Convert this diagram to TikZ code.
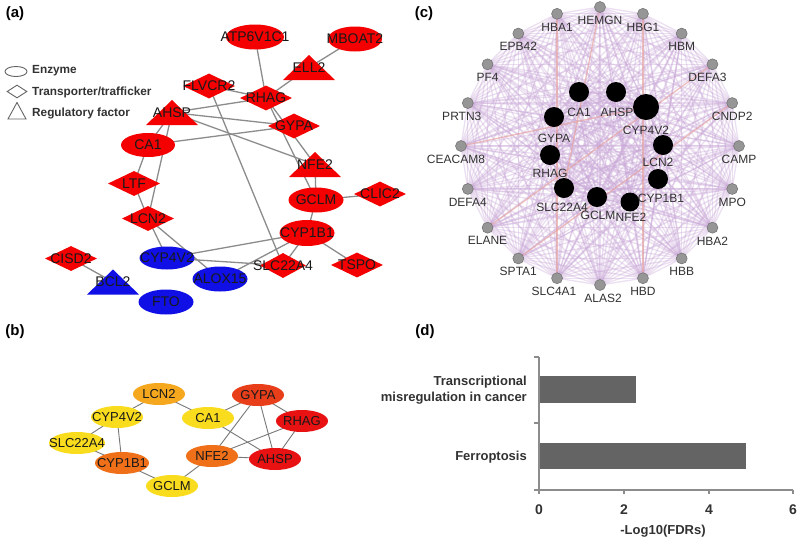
\documentclass[tikz,border=0pt]{standalone}
\usepackage{fontspec}
\setmainfont{Liberation Sans}
\usetikzlibrary{shapes.geometric}
\pgfdeclarelayer{back}
\pgfdeclarelayer{bg}
\pgfsetlayers{back,bg,main}
\definecolor{netred}{RGB}{245,0,0}
\definecolor{netblue}{RGB}{15,15,230}
\definecolor{edgegray}{RGB}{140,140,140}
\definecolor{edgegrayb}{RGB}{120,120,120}
\definecolor{byellow}{RGB}{250,220,30}
\definecolor{bamber}{RGB}{245,168,30}
\definecolor{borange}{RGB}{240,112,25}
\definecolor{bredor}{RGB}{232,62,25}
\definecolor{bred}{RGB}{232,18,18}
\definecolor{meshc}{RGB}{200,165,215}
\definecolor{meshor}{RGB}{240,160,140}
\definecolor{gnodefill}{RGB}{150,150,150}
\definecolor{gnodeline}{RGB}{110,110,110}
\definecolor{barfill}{RGB}{100,100,100}
\definecolor{axisgray}{RGB}{140,140,140}
\definecolor{txt}{RGB}{25,25,25}
\definecolor{txtc}{RGB}{50,50,50}
\definecolor{legline}{RGB}{100,100,100}
\tikzset{
  fA/.style={font=\fontsize{14}{16}\selectfont, text=txt, inner sep=0},
  fB/.style={font=\fontsize{13}{15}\selectfont, text=txt, inner sep=0},
  fC/.style={font=\fontsize{12}{14}\selectfont, text=txtc, inner sep=0},
  fLeg/.style={font=\fontsize{11.8}{14}\selectfont\bfseries, text=txtc, inner sep=0, anchor=west},
  fD/.style={font=\fontsize{13}{16}\selectfont\bfseries, text=txtc, inner sep=0},
  fTick/.style={font=\fontsize{14}{16}\selectfont\bfseries, text=txtc, inner sep=0},
  panel/.style={font=\fontsize{15}{17}\selectfont\bfseries, text=black, inner sep=0},
  ellA/.style={ellipse, fill=#1, minimum width=55pt, minimum height=25pt, inner sep=0},
  diaA/.style={diamond, fill=#1, minimum width=52pt, minimum height=25pt, inner sep=0},
  ellB/.style={ellipse, fill=#1, minimum width=52pt, minimum height=22pt, inner sep=0},
  edgeA/.style={draw=edgegray, line width=1.3pt},
  edgeB/.style={draw=edgegrayb, line width=0.9pt},
  meshline/.style={draw=meshc, line width=1.3pt, opacity=0.35},
  meshorl/.style={draw=meshor, line width=1.3pt, opacity=0.5},
  gnode/.style={circle, fill=gnodefill, draw=gnodeline, line width=0.5pt, minimum size=11pt, inner sep=0},
  knode/.style={circle, fill=black, minimum size=20pt, inner sep=0},
  axisline/.style={draw=axisgray, line width=1.3pt},
}
\newcommand{\trinode}[5]{%
  \fill[#5] (#2-26,#3+12.5) -- (#2+26,#3+12.5) -- (#2,#3-12.5) -- cycle;
  \node[fA] (#1) at (#2,#3) {#4};}
\begin{document}
\begin{tikzpicture}[x=1pt,y=-1pt]
\useasboundingbox (0,0) rectangle (800,547);
\begin{pgfonlayer}{back}
\fill[white] (0,0) rectangle (800,547);
\end{pgfonlayer}

% ---------------- panel labels
\node[panel] (pa) at (15,14) {(a)};
\node[panel] (pb) at (15,332) {(b)};
\node[panel] (pc) at (424,14) {(c)};
\node[panel] (pd) at (425,332) {(d)};

% ---------------- panel (a) legend
\node[ellipse, draw=legline, line width=0.9pt, minimum width=22pt, minimum height=10pt, inner sep=0] (legE) at (16,71.5) {};
\node[diamond, draw=legline, line width=0.9pt, minimum width=20pt, minimum height=13pt, inner sep=0] (legD) at (17,91.5) {};
\draw[legline, line width=0.9pt] (8,119) -- (26,119) -- (17,102.5) -- cycle;
\node[fLeg] (legEt) at (32,71) {Enzyme};
\node[fLeg] (legDt) at (32,92) {Transporter/trafficker};
\node[fLeg] (legTt) at (32,113) {Regulatory factor};

% ---------------- panel (a) nodes
\node[ellA=netred, minimum width=58pt, label={[fA]center:ATP6V1C1}] (ATP) at (255,37) {};
\node[ellA=netred, minimum width=54pt, label={[fA]center:MBOAT2}] (MBOAT) at (355,39) {};
\trinode{ELL}{309}{67.5}{ELL2}{netred}
\node[diaA=netred, label={[fA]center:FLVCR2}] (FLVCR) at (209,86) {};
\node[diaA=netred, label={[fA]center:RHAG}] (RHAGa) at (266,98) {};
\trinode{AHSPa}{172}{112.5}{AHSP}{netred}
\node[diaA=netred, label={[fA]center:GYPA}] (GYPAa) at (294,126) {};
\node[ellA=netred, minimum width=54pt, minimum height=24pt, label={[fA]center:CA1}] (CA1a) at (148,145) {};
\trinode{NFE2a}{315}{164.5}{NFE2}{netred}
\node[ellA=netred, label={[fA]center:GCLM}] (GCLMa) at (316,200) {};
\node[diaA=netred, label={[fA]center:CLIC2}] (CLIC) at (380,194) {};
\node[ellA=netred, minimum height=26pt, label={[fA]center:CYP1B1}] (CYP1a) at (307,233) {};
\node[diaA=netred, label={[fA]center:TSPO}] (TSPO) at (357,265) {};
\node[diaA=netred, minimum width=46pt, label={[fA]center:SLC22A4}] (SLCa) at (283,265.5) {};
\node[ellA=netblue, label={[fA]center:ALOX15}] (ALOX) at (220,279) {};
\node[ellA=netblue, minimum height=23pt, label={[fA]center:CYP4V2}] (CYP4a) at (167,258) {};
\node[ellA=netblue, label={[fA]center:FTO}] (FTO) at (166,302) {};
\trinode{BCL}{113}{282}{BCL2}{netblue}
\node[diaA=netred, label={[fA]center:CISD2}] (CISD) at (71,258.5) {};
\node[diaA=netred, label={[fA]center:LTF}] (LTF) at (134,183.5) {};
\node[diaA=netred, label={[fA]center:LCN2}] (LCN2a) at (148,218.5) {};

\begin{pgfonlayer}{bg}
\foreach \u/\v in {ATP/RHAGa, MBOAT/ELL, ELL/RHAGa, FLVCR/RHAGa, FLVCR/SLCa,
  AHSPa/RHAGa, AHSPa/GYPAa, AHSPa/NFE2a, CA1a/GYPAa, RHAGa/NFE2a, RHAGa/GCLMa,
  AHSPa/CA1a, AHSPa/LCN2a, CA1a/LTF, LTF/LCN2a, LCN2a/CYP4a, LCN2a/ALOX,
  CYP4a/CYP1a, CYP4a/SLCa, ALOX/CYP1a, CYP1a/SLCa, NFE2a/GCLMa, GCLMa/CLIC,
  GCLMa/CYP1a, CYP1a/TSPO, CISD/BCL}
  \draw[edgeA] (\u.center) -- (\v.center);
\end{pgfonlayer}

% ---------------- panel (b)
\node[ellB=bamber, label={[fB]center:LCN2}] (LCN2b) at (159,394) {};
\node[ellB=byellow, label={[fB]center:CYP4V2}] (CYP4b) at (117,417) {};
\node[ellB=byellow, label={[fB]center:CA1}] (CA1b) at (208,418) {};
\node[ellB=bredor, label={[fB]center:GYPA}] (GYPAb) at (258,395) {};
\node[ellB=bred, label={[fB]center:RHAG}] (RHAGb) at (302,421) {};
\node[ellB=byellow, minimum width=56pt, label={[fB]center:SLC22A4}] (SLCb) at (77,443) {};
\node[ellB=borange, label={[fB]center:NFE2}] (NFE2b) at (212,456) {};
\node[ellB=bred, label={[fB]center:AHSP}] (AHSPb) at (275,459) {};
\node[ellB=borange, minimum width=54pt, label={[fB]center:CYP1B1}] (CYP1b) at (122,463) {};
\node[ellB=byellow, label={[fB]center:GCLM}] (GCLMb) at (172,486) {};
\begin{pgfonlayer}{bg}
\foreach \u/\v in {LCN2b/CYP4b, LCN2b/CA1b, CYP4b/SLCb, CYP4b/CYP1b, SLCb/CYP1b,
  CYP1b/GCLMb, GCLMb/NFE2b, CA1b/GYPAb, CA1b/AHSPb, GYPAb/RHAGb, GYPAb/NFE2b,
  GYPAb/AHSPb, RHAGb/NFE2b, RHAGb/AHSPb, NFE2b/AHSPb}
  \draw[edgeB] (\u.center) -- (\v.center);
\end{pgfonlayer}

% ---------------- panel (c)
\foreach \nm/\ang/\dx in {HEMGN/90/0, HBG1/72/0, HBM/54/0, DEFA3/36/-5, CNDP2/18/0,
  CAMP/0/0, MPO/-18/0, HBA2/-36/0, HBB/-54/0, HBD/-72/0, ALAS2/-90/3,
  SLC4A1/-108/-3, SPTA1/-126/0, ELANE/-144/0, DEFA4/-162/0, CEACAM8/180/-5,
  PRTN3/162/-6, PF4/144/0, EPB42/126/0, HBA1/108/0}
  \node[gnode, label={[fC, label distance=3pt, xshift=\dx pt]below:\nm}] (o\nm) at ({600+139*cos(\ang)},{146-139*sin(\ang)}) {};

\node[knode] (kCA1) at (579,92) {};
\node[knode] (kAHSP) at (616,92) {};
\node[knode, minimum size=26pt] (kCYP4) at (646,107) {};
\node[knode] (kGYPA) at (554,117) {};
\node[knode] (kLCN2) at (663,145) {};
\node[knode] (kRHAG) at (550,155) {};
\node[knode] (kCYP1) at (658,179) {};
\node[knode] (kSLC) at (564,188) {};
\node[knode] (kGCLM) at (597,197) {};
\node[knode, minimum size=19pt] (kNFE2) at (630,202) {};
\node[fC] (kCA1l) at (579,112) {CA1};
\node[fC] (kAHSPl) at (617,112) {AHSP};
\node[fC] (kCYP4l) at (646,130) {CYP4V2};
\node[fC] (kGYPAl) at (554,138) {GYPA};
\node[fC] (kLCN2l) at (658,162) {LCN2};
\node[fC] (kRHAGl) at (550,173) {RHAG};
\node[fC] (kCYP1l) at (661,198) {CYP1B1};
\node[fC] (kSLCl) at (562,207) {SLC22A4};
\node[fC] (kGCLMl) at (598,215) {GCLM};
\node[fC] (kNFE2l) at (631,217) {NFE2};

\begin{pgfonlayer}{bg}
\foreach \a [count=\i] in {oHEMGN,oHBG1,oHBM,oDEFA3,oCNDP2,oCAMP,oMPO,oHBA2,oHBB,oHBD,
  oALAS2,oSLC4A1,oSPTA1,oELANE,oDEFA4,oCEACAM8,oPRTN3,oPF4,oEPB42,oHBA1,
  kCA1,kAHSP,kCYP4,kGYPA,kLCN2,kRHAG,kCYP1,kSLC,kGCLM,kNFE2}
  \foreach \b [count=\j] in {oHEMGN,oHBG1,oHBM,oDEFA3,oCNDP2,oCAMP,oMPO,oHBA2,oHBB,oHBD,
  oALAS2,oSLC4A1,oSPTA1,oELANE,oDEFA4,oCEACAM8,oPRTN3,oPF4,oEPB42,oHBA1,
  kCA1,kAHSP,kCYP4,kGYPA,kLCN2,kRHAG,kCYP1,kSLC,kGCLM,kNFE2}
  {\ifnum\j>\i \draw[meshline] (\a.center) -- (\b.center);\fi}
\foreach \u/\v in {oHBG1/oHBD, oHBA1/oSLC4A1, oCNDP2/oSPTA1, oDEFA3/oELANE,
  oHEMGN/kSLC, oCEACAM8/kCYP4}
  \draw[meshorl] (\u.center) -- (\v.center);
\end{pgfonlayer}

% ---------------- panel (d)
\fill[barfill] (539,376) rectangle (636,403);
\fill[barfill] (539,443) rectangle (746,469);
\draw[axisline] (539,357) -- (539,490) -- (793,490);
\foreach \y in {357,423,490} \draw[axisline] (534,\y) -- (539,\y);
\foreach \x in {539,624,709,793} \draw[axisline] (\x,490) -- (\x,494);
\node[fTick] (t0) at (539,510) {0};
\node[fTick] (t2) at (624,510) {2};
\node[fTick] (t4) at (709,510) {4};
\node[fTick] (t6) at (793,510) {6};
\node[fD] (xlab) at (663,531) {-Log10(FDRs)};
\node[fD, anchor=east, align=right] (lab1) at (527,390) {Transcriptional\\misregulation in cancer};
\node[fD, anchor=east] (lab2) at (527,457) {Ferroptosis};
\end{tikzpicture}
\end{document}
